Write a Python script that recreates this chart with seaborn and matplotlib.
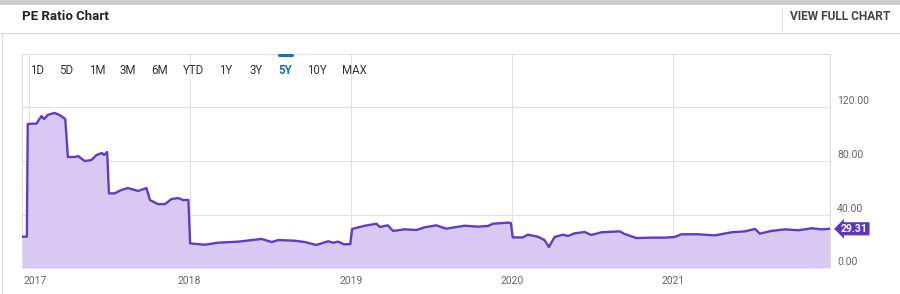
import matplotlib
matplotlib.use("Agg")
import matplotlib.pyplot as plt
import matplotlib.dates as mdates
import matplotlib.transforms as mtransforms
import seaborn as sns
import pandas as pd

# ---- data ----
dates = [
    "2016-12-17", "2016-12-28", "2016-12-30", "2017-01-19", "2017-01-30", "2017-02-05",
    "2017-02-14", "2017-03-01", "2017-03-12", "2017-03-25", "2017-03-31", "2017-04-16",
    "2017-04-23", "2017-05-08", "2017-05-23", "2017-06-04", "2017-06-16", "2017-06-21",
    "2017-06-28", "2017-07-02", "2017-07-15", "2017-07-30", "2017-08-14", "2017-09-06",
    "2017-09-25", "2017-10-03", "2017-10-21", "2017-11-06", "2017-11-21", "2017-12-06",
    "2017-12-17", "2017-12-29", "2018-01-02", "2018-02-04", "2018-03-06", "2018-04-21",
    "2018-06-13", "2018-07-06", "2018-07-21", "2018-08-27", "2018-09-19", "2018-10-15",
    "2018-11-11", "2018-11-22", "2018-12-03", "2018-12-17", "2018-12-31", "2019-01-04",
    "2019-02-02", "2019-02-28", "2019-03-08", "2019-03-26", "2019-04-07", "2019-05-03",
    "2019-05-30", "2019-06-17", "2019-07-14", "2019-08-05", "2019-09-16", "2019-10-16",
    "2019-11-08", "2019-11-19", "2019-12-23", "2019-12-30", "2020-01-03", "2020-01-26",
    "2020-02-06", "2020-02-29", "2020-03-15", "2020-03-25", "2020-04-07", "2020-04-26",
    "2020-05-07", "2020-05-22", "2020-06-14", "2020-06-29", "2020-07-22", "2020-09-01",
    "2020-09-13", "2020-10-09", "2020-11-12", "2020-12-12", "2021-01-04", "2021-01-19",
    "2021-02-26", "2021-04-05", "2021-05-13", "2021-06-12", "2021-07-05", "2021-07-16",
    "2021-08-11", "2021-09-11", "2021-10-11", "2021-11-11", "2021-12-03", "2021-12-22",
]
pe_ratio = [
    23.4, 23.4, 107.7, 108.0, 113.6, 111.4,
    114.6, 115.9, 114.4, 111.4, 83.0, 83.0,
    83.7, 80.0, 80.7, 84.5, 86.0, 84.5,
    86.7, 55.8, 55.8, 58.3, 59.8, 57.6,
    59.8, 50.8, 47.8, 47.8, 51.6, 52.3,
    50.8, 50.8, 18.4, 17.4, 18.9, 19.7,
    21.7, 19.4, 20.9, 20.4, 19.4, 17.2,
    20.0, 18.9, 19.7, 17.7, 17.9, 29.2,
    31.6, 33.1, 30.7, 31.9, 27.7, 28.9,
    28.4, 30.4, 31.9, 29.4, 31.6, 30.9,
    31.4, 33.1, 33.9, 33.6, 22.9, 22.9,
    24.9, 23.4, 20.9, 15.7, 23.2, 24.9,
    23.9, 25.9, 26.9, 24.7, 26.7, 27.4,
    25.4, 22.4, 22.7, 22.7, 23.2, 25.2,
    25.2, 24.4, 26.7, 27.4, 29.2, 25.7,
    27.7, 28.9, 28.2, 29.7, 28.9, 29.31,
]
year_ticks = ["2017-01-01", "2018-01-01", "2019-01-01", "2020-01-01", "2021-01-01"]
y_ticks = [0, 40, 80, 120]
range_buttons = ["1D", "5D", "1M", "3M", "6M", "YTD", "1Y", "3Y", "5Y", "10Y", "MAX"]
active_button = "5Y"
last_value = 29.31
title = "PE Ratio Chart"
link_text = "VIEW FULL CHART"

df = pd.DataFrame({"date": pd.to_datetime(dates), "pe": pe_ratio})

# ---- style ----
sns.set_theme(style="white")
plt.rcParams["font.family"] = ["Roboto", "DejaVu Sans"]

LINE = "#5f3cc6"
FILL = "#d7c9f2"
GRID = "#e2e2e2"

W, H = 900, 294
fig = plt.figure(figsize=(W / 100, H / 100), dpi=100)
ax = fig.add_axes([22 / W, 26 / H, 808 / W, 214 / H])

ax.fill_between(df["date"], df["pe"], 0, color=FILL, lw=0, zorder=1)
sns.lineplot(data=df, x="date", y="pe", ax=ax, color=LINE, lw=1.7, zorder=3)

ax.set_xlim(pd.Timestamp("2016-12-17"), pd.Timestamp("2021-12-22"))
ax.set_ylim(0, 160)
ax.set_xlabel("")
ax.set_ylabel("")

ax.set_xticks(pd.to_datetime(year_ticks))
ax.xaxis.set_major_formatter(mdates.DateFormatter("%Y"))
ax.yaxis.tick_right()
ax.set_yticks(y_ticks)
ax.set_yticklabels([f"{v:.2f}" for v in y_ticks])
ax.tick_params(axis="x", length=0, pad=6, labelsize=7.5, labelcolor="#666666")
ax.tick_params(axis="y", length=0, pad=5, labelsize=7.5, labelcolor="#666666")
for lbl in ax.get_yticklabels():
    lbl.set_va("bottom")
    lbl.set_transform(lbl.get_transform() + mtransforms.ScaledTranslation(0, 0.01, fig.dpi_scale_trans))
first = ax.get_xticklabels()[0]
first.set_ha("left")
first.set_transform(first.get_transform() + mtransforms.ScaledTranslation(-0.055, 0, fig.dpi_scale_trans))

ax.grid(True, color=GRID, lw=0.8, zorder=0)
ax.set_axisbelow(True)
for side in ["left", "top", "right"]:
    ax.spines[side].set_color("#dddddd")
    ax.spines[side].set_linewidth(0.8)
ax.spines["bottom"].set_visible(False)

# last-value tag
ax.annotate(f"{last_value:.2f}", xy=(1.0, last_value),
            xycoords=ax.get_yaxis_transform(),
            xytext=(8, 0), textcoords="offset points",
            ha="left", va="center", fontsize=7.5, color="white", fontweight="bold",
            bbox=dict(boxstyle="larrow,pad=0.15", fc="#5a36c0", ec="none"),
            annotation_clip=False, zorder=5)

# ---- page chrome ----
fig.add_artist(plt.Line2D([0, 1], [1 - 2 / H, 1 - 2 / H], color="#cccccc", lw=3.5))
fig.add_artist(plt.Line2D([0, 1], [1 - 33 / H, 1 - 33 / H], color="#d8d8d8", lw=0.9))
fig.add_artist(plt.Line2D([1.5 / W, 1.5 / W], [0, 1 - 33 / H], color="#d8d8d8", lw=0.9))
fig.add_artist(plt.Line2D([781.5 / W, 781.5 / W], [1 - 8 / H, 1 - 31 / H], color="#e4e4e4", lw=0.9))
fig.text(22 / W, 1 - 17 / H, title, ha="left", va="center", fontsize=9.5, fontweight="bold", color="#222222")
fig.text(890 / W, 1 - 17 / H, link_text, ha="right", va="center", fontsize=8.6, fontweight="bold", color="#444444")

btn_x = [37, 66, 97, 128, 160, 194, 226, 256, 285, 317, 354]
for bx, b in zip(btn_x, range_buttons):
    active = b == active_button
    fig.text(bx / W, 1 - 70.5 / H, b, ha="center", va="center", fontsize=8.3,
             color="#1b6fb8" if active else "#333333",
             fontweight="bold" if active else "normal")
    if active:
        fig.add_artist(plt.Line2D([(bx - 6.5) / W, (bx + 6.5) / W], [1 - 55.5 / H, 1 - 55.5 / H],
                                  color="#1b6fb8", lw=2.2))

fig.savefig("out.png", dpi=100)
